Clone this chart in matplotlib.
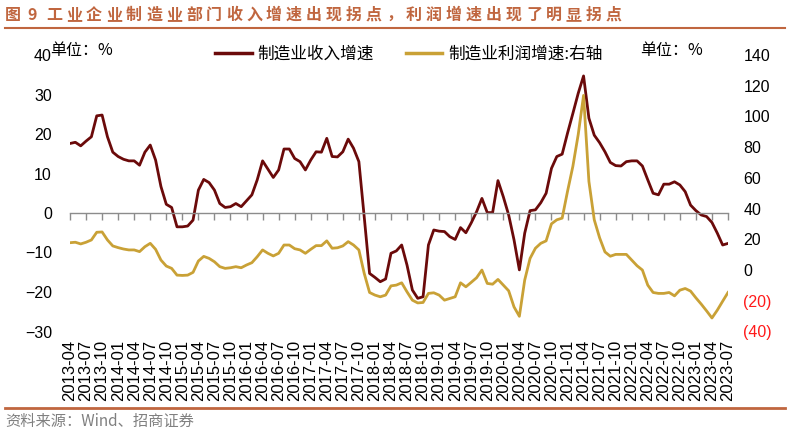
import numpy as np
import pandas as pd
import matplotlib
matplotlib.use("Agg")
import matplotlib.pyplot as plt
from matplotlib.lines import Line2D

CJK = ["Noto Sans CJK SC", "DejaVu Sans"]
plt.rcParams["font.family"] = ["Liberation Sans", "Noto Sans CJK SC", "DejaVu Sans"]

months = pd.period_range("2013-04", "2023-07", freq="M").strftime("%Y-%m").tolist()

# 制造业收入增速 (左轴, %)
revenue = [
    17.6, 17.9, 17.0, 18.2, 19.3, 24.6, 24.8, 19.3, 15.4, 14.3, 13.6, 13.2,
    13.2, 12.1, 15.4, 17.2, 13.4, 6.7, 2.2, 1.4, -3.5, -3.5, -3.3, -1.8,
    5.8, 8.5, 7.7, 5.8, 2.4, 1.4, 1.6, 2.4, 1.6, 3.1, 4.6, 8.4,
    13.2, 11.1, 9.0, 10.9, 16.2, 16.2, 13.8, 13.0, 10.9, 13.4, 15.5, 15.4,
    18.9, 14.3, 14.2, 15.5, 18.7, 16.4, 13.0, -1.0, -15.3, -16.3, -17.4, -16.7,
    -10.2, -9.6, -8.1, -13.2, -19.5, -21.6, -21.2, -8.1, -4.3, -4.6, -4.7, -6.0,
    -6.7, -3.7, -5.0, -2.5, 0.3, 3.7, 0.1, 0.1, 8.2, 4.1, -0.5, -6.8,
    -14.4, -5.1, 0.6, 0.8, 2.6, 5.0, 11.3, 14.3, 14.9, 20.2, 25.2, 30.3,
    34.7, 24.0, 19.7, 17.8, 15.5, 12.8, 12.0, 11.9, 13.0, 13.2, 13.2, 11.9,
    8.4, 5.0, 4.6, 7.3, 7.3, 7.9, 7.1, 5.4, 2.0, 0.6, -0.5, -0.9,
    -2.4, -5.1, -8.1, -7.7,
]

# 制造业利润增速 (右轴, %)
profit = [
    17.8, 18.1, 17.0, 18.1, 19.6, 24.6, 24.8, 19.6, 15.7, 14.6, 13.7, 13.1,
    13.1, 12.0, 15.2, 17.4, 13.5, 6.5, 2.6, 1.1, -3.3, -3.5, -3.3, -1.5,
    5.9, 8.9, 7.6, 5.4, 2.2, 1.1, 1.5, 2.2, 1.5, 3.3, 4.8, 8.7,
    13.1, 10.9, 9.2, 10.9, 16.3, 16.3, 13.9, 13.1, 10.9, 13.5, 15.9, 15.9,
    19.0, 14.2, 14.5, 15.7, 18.5, 16.3, 13.1, -2.2, -14.6, -16.3, -17.4, -16.3,
    -10.3, -9.8, -8.3, -14.2, -19.6, -21.4, -21.1, -15.2, -14.8, -16.3, -19.6, -18.5,
    -17.4, -8.3, -10.9, -8.0, -5.0, 0.0, -8.7, -9.2, -6.1, -9.8, -13.5, -24.0,
    -30.1, -6.5, 7.6, 14.2, 17.4, 19.0, 30.1, 32.7, 33.8, 51.2, 67.5, 88.2,
    113.7, 57.7, 32.7, 21.0, 11.8, 9.0, 10.2, 10.2, 10.2, 6.5, 2.8, 0.0,
    -9.8, -14.6, -15.2, -15.2, -14.6, -16.8, -13.1, -12.0, -13.7, -18.1, -22.2, -26.6,
    -31.2, -26.1, -20.3, -14.6,
]

left_ticks = list(range(-30, 41, 10))
right_ticks = list(range(-40, 141, 20))
series_names = ["制造业收入增速", "制造业利润增速:右轴"]
title = "图 9 工业企业制造业部门收入增速出现拐点，利润增速出现了明显拐点"
source = "资料来源：Wind、招商证券"

REV_C = "#6B0A0A"
PRO_C = "#C9A136"
ACCENT = "#C0663F"
W, H = 791, 432

fig = plt.figure(figsize=(W / 100, H / 100), dpi=100)
ax = fig.add_axes([70 / W, 1 - 331.5 / H, 658 / W, 276.5 / H])
ax2 = ax.twinx()

x = np.arange(len(months))
ax.plot(x, revenue, color=REV_C, lw=2.0, solid_joinstyle="round")
ax2.plot(x, profit, color=PRO_C, lw=2.0, solid_joinstyle="round")

ax.set_xlim(0, len(months) - 1)
ax.set_ylim(left_ticks[0], left_ticks[-1])
ax2.set_ylim(right_ticks[0], right_ticks[-1])

for a in (ax, ax2):
    for s in a.spines.values():
        s.set_visible(False)

# zero line with ticks
ax.spines["bottom"].set_visible(True)
ax.spines["bottom"].set_position(("data", 0))
ax.spines["bottom"].set_color("#8C8C8C")
ax.spines["bottom"].set_linewidth(1.0)
ax.set_xticks(x[::3])
ax.tick_params(axis="x", direction="out", length=5, width=1.0,
               color="#8C8C8C", labelbottom=False)

# date labels at the bottom
sec = ax.secondary_xaxis(0)
sec.spines["bottom"].set_visible(False)
sec.set_xticks(x[::3], labels=months[::3])
sec.tick_params(axis="x", length=0, pad=6, labelsize=12, rotation=90)

ax.set_yticks(left_ticks)
ax.tick_params(axis="y", length=0, pad=13, labelsize=11.5)

ax2.set_yticks(right_ticks,
               labels=[f"({-v})" if v < 0 else f"{v}" for v in right_ticks])
ax2.tick_params(axis="y", length=0, pad=11, labelsize=11.5)
for v, lab in zip(right_ticks, ax2.get_yticklabels()):
    if v < 0:
        lab.set_color("#FF1A1A")

handles = [Line2D([], [], color=REV_C, lw=2.5), Line2D([], [], color=PRO_C, lw=2.5)]
ax2.legend(handles, series_names, loc="center left",
           bbox_to_anchor=(215 / W, 1 - 54 / H), bbox_transform=fig.transFigure,
           ncol=2, frameon=False, handlelength=2.2, handletextpad=0.35,
           columnspacing=1.9, borderpad=0, borderaxespad=0,
           prop={"family": CJK, "size": 12})

fig.text(50 / W, 1 - 51 / H, "单位：%", family=CJK, fontsize=11.5, va="center")
fig.text(640 / W, 1 - 51 / H, "单位：%", family=CJK, fontsize=11.5, va="center")

# title, spaced characters
fig.text(12.5 / W, 1 - 15 / H, title[0], family=CJK, fontsize=11.5,
         weight="bold", color=ACCENT, ha="center", va="center")
fig.text(32.5 / W, 1 - 15 / H, title[2], family=CJK, fontsize=11.5,
         weight="bold", color=ACCENT, ha="center", va="center")
for k, ch in enumerate(title[4:]):
    fig.text((54 + 20 * k) / W, 1 - 15 / H, ch, family=CJK, fontsize=11.5,
             weight="bold", color=ACCENT, ha="center", va="center")

fig.add_artist(Line2D([5 / W, 785 / W], [1 - 28 / H] * 2, color=ACCENT, lw=1.5))
fig.add_artist(Line2D([5 / W, 785 / W], [1 - 408 / H] * 2, color=ACCENT, lw=2.0))
fig.text(5 / W, 1 - 421 / H, source, family=CJK, fontsize=11, color="#808080",
         va="center")

fig.savefig("out.png", dpi=100)
